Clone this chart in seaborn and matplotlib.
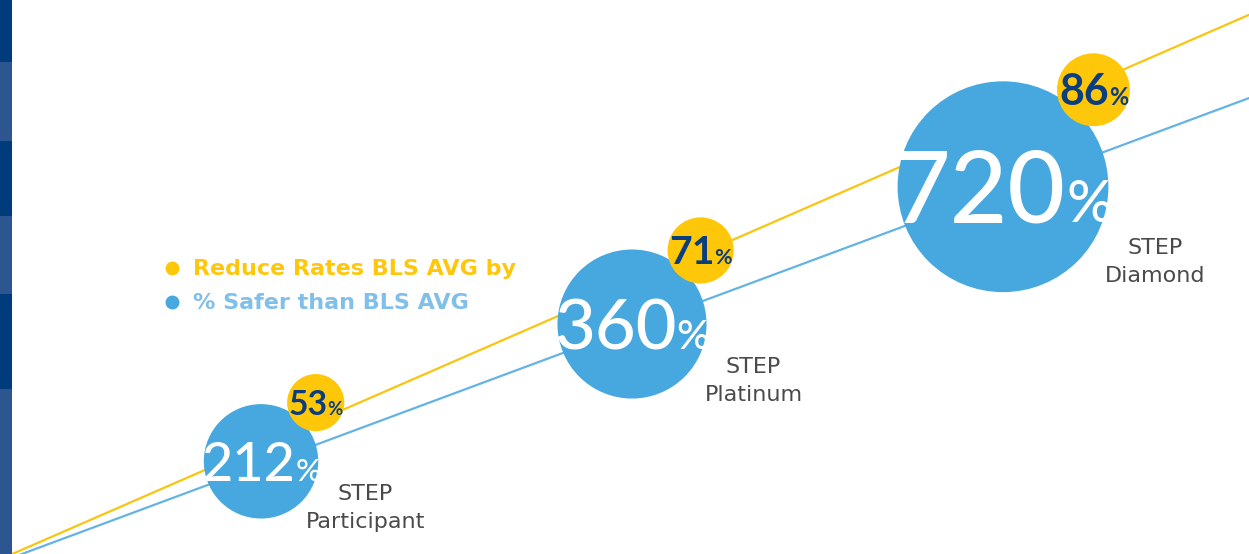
import numpy as np
import pandas as pd
import matplotlib
matplotlib.use('Agg')
import matplotlib.pyplot as plt
import seaborn as sns
from matplotlib.patches import Rectangle
from matplotlib.transforms import offset_copy

levels = ['STEP Participant', 'STEP Platinum', 'STEP Diamond']
safer_than_bls = [212, 360, 720]   # % safer than BLS average (blue bubbles)
reduce_rates = [53, 71, 86]        # reduce rates BLS avg by (yellow bubbles)
legend_labels = ['Reduce Rates BLS AVG by', '% Safer than BLS AVG']

YELLOW = '#FFC70A'
YELLOW_LINE = '#F9C510'
BLUE = '#46A8DE'
BLUE_LINE = '#64B3E4'
BLUE_TEXT = '#80BFEA'
NAVY = '#0B3E7E'
GREY = '#4a4a4a'
STRIP = ['#003B7B', '#2D5590']

DPI = 100
SIZE_K = 32          # marker area (pt^2) per percent point
XLIM = (-0.7035, 2.6631)
YLIM = (-0.675, 3.36)

sns.set_theme(style='white')
plt.rcParams['font.family'] = ['Lato', 'DejaVu Sans']

fig = plt.figure(figsize=(12.49, 5.54), dpi=DPI)
fig.patch.set_facecolor('white')
ax = fig.add_axes([0, 0, 1, 1])
ax.set_xlim(XLIM)
ax.set_ylim(YLIM)
ax.axis('off')


def radius_px(vals):
    return np.sqrt(SIZE_K * np.asarray(vals, float)) / 2 * DPI / 72


pos = np.arange(len(levels))
safer = pd.DataFrame({'level': levels, 'x': pos, 'y': pos.astype(float), 'pct': safer_than_bls})

# yellow badges sit on the upper right rim of each blue bubble
rb = radius_px(safer_than_bls)
ry = radius_px(reduce_rates)
ang = np.deg2rad(47)
d = 0.935 * (rb + ry)
blue_px = ax.transData.transform(safer[['x', 'y']].to_numpy(float))
yel_px = blue_px + np.column_stack([d * np.cos(ang), d * np.sin(ang)])
yel_xy = ax.transData.inverted().transform(yel_px)
reduce = pd.DataFrame({'level': levels, 'x': yel_xy[:, 0], 'y': yel_xy[:, 1], 'pct': reduce_rates})

# trend lines
xs = np.array(XLIM)
sns.lineplot(x=xs, y=1.004 * xs - 0.028, color=BLUE_LINE, lw=1.6, ax=ax, zorder=1)
sns.lineplot(x=xs, y=1.178 * xs + 0.115, color=YELLOW_LINE, lw=1.6, ax=ax, zorder=1)

sns.scatterplot(data=safer, x='x', y='y', size='pct', sizes=(0, SIZE_K * 720), size_norm=(0, 720),
                color=BLUE, linewidth=0, legend=False, ax=ax, zorder=2)
sns.scatterplot(data=reduce, x='x', y='y', size='pct', sizes=(0, SIZE_K * 720), size_norm=(0, 720),
                color=YELLOW, linewidth=0, legend=False, ax=ax, zorder=3)
ax.set_xlim(XLIM)
ax.set_ylim(YLIM)
ax.axis('off')

# number labels: big digits + small percent sign, centred on the bubble
labels = []
for i in range(len(levels)):
    labels.append((safer['x'][i], safer['y'][i], str(safer_than_bls[i]), 0.68 * rb[i], 'white', 'medium', 0.58))
    labels.append((reduce['x'][i], reduce['y'][i], str(reduce_rates[i]), 0.85 * ry[i], NAVY, 'bold', 0.55))

texts = []
for x, y, num, fs, col, wt, ratio in labels:
    t1 = ax.text(x, y, num, fontsize=fs, color=col, fontweight=wt, ha='left', va='baseline', zorder=5)
    t2 = ax.text(x, y, '%', fontsize=fs * ratio, color=col, fontweight=wt, ha='left', va='baseline', zorder=5)
    texts.append((t1, t2, fs))

# category labels to the lower right of the blue bubbles
for i, lev in enumerate(levels):
    first, second = lev.split(' ', 1)
    dx = rb[i] + 47
    dy = 0.6 * rb[i] + 4
    for j, line in enumerate([first, second]):
        ax.text(safer['x'][i], safer['y'][i], line, fontsize=16, color=GREY, family='DejaVu Sans',
                ha='center', va='baseline', zorder=5,
                transform=offset_copy(ax.transData, fig=fig, x=dx, y=-(dy + 28 * j), units='dots'))

fig.canvas.draw()
renderer = fig.canvas.get_renderer()
for t1, t2, fs in texts:
    w1 = t1.get_window_extent(renderer).width
    w2 = t2.get_window_extent(renderer).width
    cap = fs * DPI / 72 * 0.716
    total = w1 + w2
    t1.set_transform(offset_copy(ax.transData, fig=fig, x=-total / 2, y=-cap / 2, units='dots'))
    t2.set_transform(offset_copy(ax.transData, fig=fig, x=-total / 2 + w1, y=-cap / 2, units='dots'))

# legend drawn by hand
W, H = 1249, 554
for k, (lab, dot, tcol) in enumerate(zip(legend_labels, [YELLOW, BLUE], [YELLOW, BLUE_TEXT])):
    yc = 268 + 34 * k
    fig.add_artist(plt.Line2D([172 / W], [1 - yc / H], marker='o', markersize=10, color=dot,
                              markeredgewidth=0, transform=fig.transFigure))
    fig.text(193 / W, 1 - (yc + 7) / H, lab, fontsize=16, color=tcol, fontweight='bold',
             family='DejaVu Sans', ha='left', va='baseline')

# left side stripe
edges = [0, 62, 141, 216, 294, 389, 554]
for k in range(len(edges) - 1):
    fig.add_artist(Rectangle((0, 1 - edges[k + 1] / H), 12 / W, (edges[k + 1] - edges[k]) / H,
                             transform=fig.transFigure, color=STRIP[k % 2], lw=0))

fig.savefig('out.png', dpi=DPI)
